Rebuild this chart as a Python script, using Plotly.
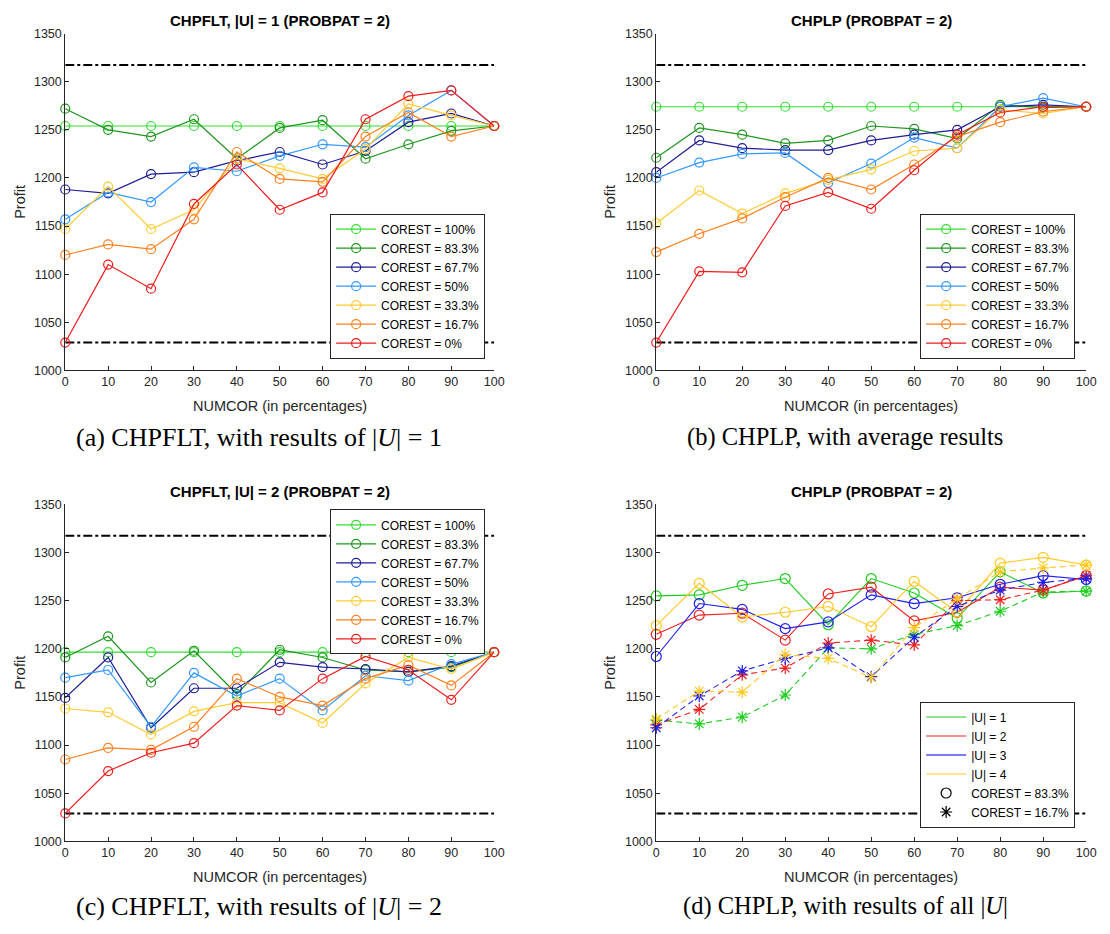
import plotly.graph_objects as go

# ---------------- data ----------------
NUMCOR = [0, 10, 20, 30, 40, 50, 60, 70, 80, 90, 100]
Y_TICKS = [1000, 1050, 1100, 1150, 1200, 1250, 1300, 1350]
UPPER_BOUND = 1317.5
LOWER_BOUND = 1029

COREST_LABELS = ["COREST = 100%", "COREST = 83.3%", "COREST = 67.7%", "COREST = 50%",
                 "COREST = 33.3%", "COREST = 16.7%", "COREST = 0%"]

# (a) CHPFLT, |U| = 1
a_100 = [1254, 1254, 1254, 1254, 1254, 1254, 1254, 1254, 1254, 1254, 1254]
a_833 = [1272, 1250, 1243, 1261, 1220, 1252, 1260, 1220, 1235, 1249, 1254]
a_677 = [1188, 1184, 1204, 1206, 1218, 1227, 1214, 1228, 1258, 1267, 1254]
a_50 = [1157, 1185, 1175, 1211, 1207, 1223, 1235, 1232, 1265, 1291, 1254]
a_333 = [1147, 1191, 1147, 1167, 1220, 1210, 1199, 1230, 1277, 1265, 1254]
a_167 = [1120, 1131, 1126, 1157, 1227, 1199, 1196, 1243, 1268, 1243, 1254]
a_0 = [1029, 1110, 1085, 1173, 1214, 1167, 1185, 1261, 1285, 1291, 1254]

# (b) CHPLP, average
b_100 = [1274, 1274, 1274, 1274, 1274, 1274, 1274, 1274, 1274, 1274, 1274]
b_833 = [1221, 1252, 1245, 1236, 1239, 1254, 1251, 1241, 1276, 1273, 1274]
b_677 = [1206, 1239, 1231, 1229, 1229, 1239, 1245, 1250, 1274, 1276, 1274]
b_50 = [1200, 1216, 1225, 1226, 1195, 1215, 1242, 1231, 1274, 1283, 1274]
b_333 = [1153, 1187, 1163, 1184, 1198, 1209, 1228, 1231, 1271, 1267, 1274]
b_167 = [1123, 1142, 1158, 1180, 1200, 1188, 1214, 1243, 1258, 1269, 1274]
b_0 = [1029, 1103, 1102, 1171, 1185, 1168, 1208, 1245, 1268, 1274, 1274]

# (c) CHPFLT, |U| = 2
c_100 = [1196.5, 1196.5, 1196.5, 1196.5, 1196.5, 1196.5, 1196.5, 1196.5, 1196.5, 1196.5, 1196.5]
c_833 = [1191, 1213, 1165, 1198, 1153, 1199, 1191, 1178, 1176, 1181, 1196.5]
c_677 = [1149, 1191, 1118, 1159, 1159, 1186, 1181, 1179, 1176, 1182, 1196.5]
c_50 = [1170, 1178, 1119, 1175, 1151, 1169, 1136, 1172, 1167, 1184, 1196.5]
c_333 = [1138, 1134, 1111, 1135, 1144, 1144, 1123, 1164, 1191, 1179, 1196.5]
c_167 = [1085, 1097, 1095, 1119, 1169, 1150, 1141, 1169, 1183, 1162, 1196.5]
c_0 = [1029, 1073, 1092, 1102, 1141, 1136, 1169, 1192, 1178, 1147, 1196.5]

# (d) CHPLP, all |U|
U_LABELS = ["|U| = 1", "|U| = 2", "|U| = 3", "|U| = 4"]
d_c833_u1 = [1255, 1256, 1266, 1273, 1225, 1273, 1258, 1232, 1280, 1258, 1260]
d_c833_u2 = [1215, 1235, 1237, 1209, 1257, 1264, 1229, 1238, 1264, 1261, 1276]
d_c833_u3 = [1192, 1247, 1241, 1221, 1228, 1256, 1247, 1253, 1267, 1276, 1272]
d_c833_u4 = [1224, 1268, 1233, 1238, 1244, 1223, 1270, 1238, 1289, 1295, 1287]
d_c167_u1 = [1126, 1122, 1129, 1152, 1201, 1200, 1215, 1224, 1239, 1259, 1260]
d_c167_u2 = [1121, 1137, 1173, 1180, 1206, 1209, 1204, 1250, 1251, 1261, 1276]
d_c167_u3 = [1118, 1151, 1177, 1190, 1201, 1171, 1212, 1244, 1261, 1269, 1273]
d_c167_u4 = [1127, 1156, 1155, 1194, 1190, 1170, 1222, 1252, 1280, 1284, 1287]

# ---------------- style ----------------
W, H = 1110, 934
COREST_COLORS = ["#33DD33", "#1E961E", "#1E1E96", "#3399FF", "#FFCC33", "#FF801F", "#EE1C1C"]
U_COLORS = ["#1FCC1F", "#EE2020", "#2020EE", "#FFC81E"]
AX_COLOR = "#262626"
SANS = "Liberation Sans"
SERIF = "Liberation Serif"

def px_x(p):
    return p / W

def px_y(p):
    return 1 - p / H

X_DOM = [[63, 497], [661, 1096]]
Y_DOM = [[27, 369], [505, 847]]

fig = go.Figure()

panels = [
    ("x", "y", "legend", [a_100, a_833, a_677, a_50, a_333, a_167, a_0]),
    ("x2", "y2", "legend2", [b_100, b_833, b_677, b_50, b_333, b_167, b_0]),
    ("x3", "y3", "legend3", [c_100, c_833, c_677, c_50, c_333, c_167, c_0]),
]

bound_dash = "9px,3px,3px,3px"

def add_bounds(xa, ya):
    for val in (UPPER_BOUND, LOWER_BOUND):
        fig.add_trace(go.Scatter(x=[NUMCOR[0], NUMCOR[-1]], y=[val, val], mode="lines",
                                 line=dict(color="black", width=2, dash=bound_dash),
                                 xaxis=xa, yaxis=ya, showlegend=False, hoverinfo="skip"))

for xa, ya, lg, series in panels:
    add_bounds(xa, ya)
    for name, col, vals in zip(COREST_LABELS, COREST_COLORS, series):
        fig.add_trace(go.Scatter(
            x=NUMCOR, y=vals, mode="lines+markers", name=name,
            line=dict(color=col, width=1.2),
            marker=dict(symbol="circle-open", size=9, color=col, line=dict(width=1.2, color=col)),
            xaxis=xa, yaxis=ya, legend=lg, cliponaxis=False))

# panel (d)
add_bounds("x4", "y4")
for col, vals in zip(U_COLORS, [d_c833_u1, d_c833_u2, d_c833_u3, d_c833_u4]):
    fig.add_trace(go.Scatter(
        x=NUMCOR, y=vals, mode="lines+markers",
        line=dict(color=col, width=1.1),
        marker=dict(symbol="circle-open", size=10, color=col, line=dict(width=1.2, color=col)),
        xaxis="x4", yaxis="y4", showlegend=False, cliponaxis=False))
for col, vals in zip(U_COLORS, [d_c167_u1, d_c167_u2, d_c167_u3, d_c167_u4]):
    fig.add_trace(go.Scatter(
        x=NUMCOR, y=vals, mode="lines+markers",
        line=dict(color=col, width=1.1, dash="6px,4px"),
        marker=dict(symbol="asterisk-open", size=10, color=col, line=dict(width=1.2, color=col)),
        xaxis="x4", yaxis="y4", showlegend=False, cliponaxis=False))
# legend entries for (d)
for i, (name, col) in enumerate(zip(U_LABELS, U_COLORS)):
    lw = 2.2 if i == 2 else 1.2
    lc = "#7A7AFF" if i == 2 else col
    fig.add_trace(go.Scatter(x=[None], y=[None], mode="lines", name=name,
                             line=dict(color=lc, width=lw),
                             xaxis="x4", yaxis="y4", legend="legend4"))
fig.add_trace(go.Scatter(x=[None], y=[None], mode="markers", name="COREST = 83.3%",
                         marker=dict(symbol="circle-open", size=10, color="black", line=dict(width=1.2)),
                         xaxis="x4", yaxis="y4", legend="legend4"))
fig.add_trace(go.Scatter(x=[None], y=[None], mode="markers", name="COREST = 16.7%",
                         marker=dict(symbol="asterisk-open", size=10, color="black", line=dict(width=1.2)),
                         xaxis="x4", yaxis="y4", legend="legend4"))

# ---------------- axes ----------------
def xaxis_cfg(dom, anchor):
    return dict(domain=[px_x(dom[0]), px_x(dom[1])], range=[NUMCOR[0], NUMCOR[-1]], anchor=anchor,
                tickvals=NUMCOR, showline=True, linecolor=AX_COLOR, linewidth=1,
                ticks="inside", ticklen=4, tickcolor=AX_COLOR, showgrid=False, zeroline=False,
                tickfont=dict(family=SANS, size=12.5, color=AX_COLOR), fixedrange=True)

def yaxis_cfg(dom, anchor):
    return dict(domain=[px_y(dom[1]), px_y(dom[0])], range=[Y_TICKS[0], Y_TICKS[-1]], anchor=anchor,
                tickvals=Y_TICKS, showline=True, linecolor=AX_COLOR, linewidth=1,
                ticks="inside", ticklen=4, tickcolor=AX_COLOR, showgrid=False, zeroline=False,
                tickfont=dict(family=SANS, size=12.5, color=AX_COLOR), fixedrange=True)

layout = dict(
    width=W, height=H, margin=dict(l=0, r=0, t=0, b=0),
    paper_bgcolor="white", plot_bgcolor="white",
    xaxis=xaxis_cfg(X_DOM[0], "y"), yaxis=yaxis_cfg(Y_DOM[0], "x"),
    xaxis2=xaxis_cfg(X_DOM[1], "y2"), yaxis2=yaxis_cfg(Y_DOM[0], "x2"),
    xaxis3=xaxis_cfg(X_DOM[0], "y3"), yaxis3=yaxis_cfg(Y_DOM[1], "x3"),
    xaxis4=xaxis_cfg(X_DOM[1], "y4"), yaxis4=yaxis_cfg(Y_DOM[1], "x4"),
)

def legend_cfg(lx, ly, anchor):
    return dict(x=px_x(lx), y=px_y(ly), xanchor="left", yanchor=anchor,
                bgcolor="white", bordercolor=AX_COLOR, borderwidth=1,
                font=dict(family=SANS, size=12, color="black"),
                itemwidth=40, tracegroupgap=0)

layout["legend"] = legend_cfg(331, 357, "bottom")
layout["legend2"] = legend_cfg(928, 357, "bottom")
layout["legend3"] = legend_cfg(331, 510, "top")
layout["legend4"] = legend_cfg(928, 833, "bottom")

# ---------------- text ----------------
ann = []
titles = ["CHPFLT, |U| = 1 (PROBPAT = 2)", "CHPLP (PROBPAT = 2)",
          "CHPFLT, |U| = 2 (PROBPAT = 2)", "CHPLP (PROBPAT = 2)"]
captions = ["(a) CHPFLT, with results of |<i>U</i>| = 1", "(b) CHPLP, with average results",
            "(c) CHPFLT, with results of |<i>U</i>| = 2", "(d) CHPLP, with results of all |<i>U</i>|"]
caption_sizes = [26, 24.5, 26, 24.5]
title_y = [14, 492]
xlabel_y = [405, 883]
caption_y = [437, 913]
caption_x = [259, 852]
ylabel_x = [17, 614]

for k in range(4):
    col, row = k % 2, k // 2
    xc = (X_DOM[col][0] + X_DOM[col][1]) / 2
    yc = (Y_DOM[row][0] + Y_DOM[row][1]) / 2
    ann.append(dict(text="<b>" + titles[k] + "</b>", x=px_x(xc), y=px_y(title_y[row]),
                    xref="paper", yref="paper", showarrow=False, xanchor="center", yanchor="middle",
                    font=dict(family=SANS, size=15, color="black")))
    ann.append(dict(text="NUMCOR (in percentages)", x=px_x(xc), y=px_y(xlabel_y[row]),
                    xref="paper", yref="paper", showarrow=False, xanchor="center", yanchor="middle",
                    font=dict(family=SANS, size=14.5, color=AX_COLOR)))
    ann.append(dict(text="Profit", x=px_x(ylabel_x[col]), y=px_y(yc), textangle=-90,
                    xref="paper", yref="paper", showarrow=False, xanchor="center", yanchor="middle",
                    font=dict(family=SANS, size=14.5, color=AX_COLOR)))
    ann.append(dict(text=captions[k], x=px_x(caption_x[col]), y=px_y(caption_y[row]),
                    xref="paper", yref="paper", showarrow=False, xanchor="center", yanchor="middle",
                    font=dict(family=SERIF, size=caption_sizes[k], color="black")))

layout["annotations"] = ann
fig.update_layout(**layout)
fig.write_html("out.html")
